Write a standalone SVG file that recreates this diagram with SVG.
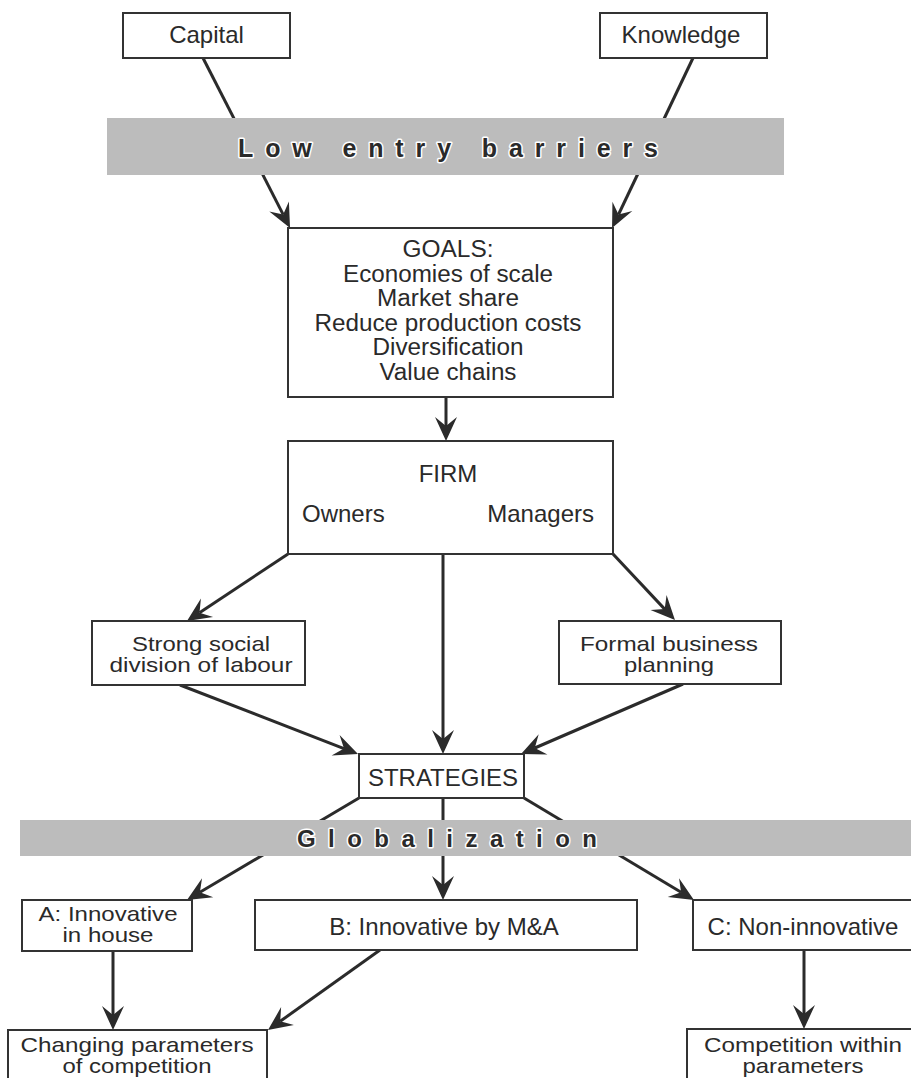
<svg xmlns="http://www.w3.org/2000/svg" width="911" height="1078" viewBox="0 0 911 1078">
  <style>
    .box { fill: #ffffff; stroke: #333333; stroke-width: 2; }
    .lbl { font-family: "Liberation Sans", Arial, sans-serif; font-size: 24px; fill: #2a2a2a; text-anchor: middle; }
    .lbl-l { font-family: "Liberation Sans", Arial, sans-serif; font-size: 24px; fill: #2a2a2a; }
    .lbl-g { font-family: "Liberation Sans", Arial, sans-serif; font-size: 23px; fill: #2a2a2a; text-anchor: middle; }
    .lbl2 { font-family: "Liberation Sans", Arial, sans-serif; font-size: 21px; fill: #2a2a2a; text-anchor: middle; }
    .conn { fill: none; stroke: #2b2b2b; stroke-width: 3; marker-end: url(#ah); }
    .band { fill: #bcbcbc; }
    .bandtxt { font-family: "Liberation Sans", Arial, sans-serif; font-weight: bold; fill: #2a2a2a; stroke: #ffffff; stroke-width: 3; paint-order: stroke; stroke-linejoin: round; }
  </style>
  <defs>
    <!-- barbed arrowhead; origin sits at the notch, tip 15px ahead -->
    <marker id="ah" markerUnits="userSpaceOnUse" markerWidth="30" markerHeight="26" viewBox="-10 -13 30 26" refX="0" refY="0" orient="auto">
      <path d="M15,0 L-9,-11 L0,0 L-9,11 Z" fill="#2b2b2b"/>
    </marker>
  </defs>
  <rect x="0" y="0" width="911" height="1078" fill="#ffffff"/>

  <!-- connectors (drawn first so the bands pass over them) -->
  <g id="connectors">
    <line class="conn" x1="203" y1="58" x2="283.2" y2="214.6"/>
    <line class="conn" x1="693" y1="58" x2="618.5" y2="214.5"/>
    <line class="conn" x1="446" y1="397" x2="446" y2="426"/>
    <line class="conn" x1="288" y1="554" x2="199.5" y2="612.7"/>
    <line class="conn" x1="443" y1="554" x2="443" y2="739"/>
    <line class="conn" x1="613" y1="554" x2="664.7" y2="609.1"/>
    <line class="conn" x1="180" y1="685" x2="344" y2="748.6"/>
    <line class="conn" x1="683" y1="684" x2="534.8" y2="748"/>
    <line class="conn" x1="359" y1="798" x2="199.9" y2="892.3"/>
    <line class="conn" x1="443" y1="798" x2="443" y2="885"/>
    <line class="conn" x1="524" y1="798" x2="681.1" y2="892.3"/>
    <line class="conn" x1="113" y1="951" x2="113" y2="1015"/>
    <line class="conn" x1="380" y1="950" x2="280.2" y2="1021.3"/>
    <line class="conn" x1="804" y1="950" x2="804" y2="1014"/>
  </g>

  <!-- shaded bands -->
  <g id="band-entry">
    <rect class="band" x="107" y="118" width="677" height="57"/>
    <text class="bandtxt" x="238" y="157" font-size="25" textLength="420" lengthAdjust="spacing">Low entry barriers</text>
  </g>
  <g id="band-globalization">
    <rect class="band" x="20" y="820" width="891" height="36"/>
    <text class="bandtxt" x="297" y="847" font-size="24" textLength="300" lengthAdjust="spacing">Globalization</text>
  </g>

  <!-- nodes -->
  <g id="capital">
    <rect class="box" x="123" y="13" width="167" height="45"/>
    <text class="lbl" x="206.5" y="43">Capital</text>
  </g>
  <g id="knowledge">
    <rect class="box" x="600" y="13" width="167" height="45"/>
    <text class="lbl" x="681" y="43">Knowledge</text>
  </g>
  <g id="goals">
    <rect class="box" x="288" y="228" width="325" height="169"/>
    <text class="lbl-g" x="448" y="257" textLength="91" lengthAdjust="spacingAndGlyphs">GOALS:</text>
    <text class="lbl-g" x="448" y="281.5" textLength="210" lengthAdjust="spacingAndGlyphs">Economies of scale</text>
    <text class="lbl-g" x="448" y="306" textLength="142" lengthAdjust="spacingAndGlyphs">Market share</text>
    <text class="lbl-g" x="448" y="330.5" textLength="267" lengthAdjust="spacingAndGlyphs">Reduce production costs</text>
    <text class="lbl-g" x="448" y="355" textLength="151" lengthAdjust="spacingAndGlyphs">Diversification</text>
    <text class="lbl-g" x="448" y="379.5" textLength="137" lengthAdjust="spacingAndGlyphs">Value chains</text>
  </g>
  <g id="firm">
    <rect class="box" x="288" y="441" width="325" height="113"/>
    <text class="lbl" x="448" y="482">FIRM</text>
    <text class="lbl-l" x="302" y="522">Owners</text>
    <text class="lbl-l" x="594" y="522" text-anchor="end">Managers</text>
  </g>
  <g id="social-division">
    <rect class="box" x="92" y="621" width="213" height="64"/>
    <text class="lbl2" x="201" y="651" textLength="138" lengthAdjust="spacingAndGlyphs">Strong social</text>
    <text class="lbl2" x="201" y="672" textLength="183" lengthAdjust="spacingAndGlyphs">division of labour</text>
  </g>
  <g id="business-planning">
    <rect class="box" x="559" y="621" width="222" height="63"/>
    <text class="lbl2" x="669" y="651" textLength="178" lengthAdjust="spacingAndGlyphs">Formal business</text>
    <text class="lbl2" x="669" y="672" textLength="90" lengthAdjust="spacingAndGlyphs">planning</text>
  </g>
  <g id="strategies">
    <rect class="box" x="359" y="754" width="165" height="44"/>
    <text class="lbl" x="443" y="786">STRATEGIES</text>
  </g>
  <g id="strategy-a">
    <rect class="box" x="22" y="900" width="170" height="51"/>
    <text class="lbl2" x="108" y="921" textLength="139" lengthAdjust="spacingAndGlyphs">A: Innovative</text>
    <text class="lbl2" x="108" y="942" textLength="91" lengthAdjust="spacingAndGlyphs">in house</text>
  </g>
  <g id="strategy-b">
    <rect class="box" x="255" y="900" width="382" height="50"/>
    <text class="lbl" x="444" y="935">B: Innovative by M&amp;A</text>
  </g>
  <g id="strategy-c">
    <rect class="box" x="693" y="900" width="222" height="50"/>
    <text class="lbl" x="803" y="935">C: Non-innovative</text>
  </g>
  <g id="changing-parameters">
    <rect class="box" x="8" y="1030" width="259" height="60"/>
    <text class="lbl2" x="137" y="1052" textLength="233" lengthAdjust="spacingAndGlyphs">Changing parameters</text>
    <text class="lbl2" x="137" y="1073" textLength="149" lengthAdjust="spacingAndGlyphs">of competition</text>
  </g>
  <g id="within-parameters">
    <rect class="box" x="687" y="1029" width="228" height="60"/>
    <text class="lbl2" x="803" y="1052" textLength="198" lengthAdjust="spacingAndGlyphs">Competition within</text>
    <text class="lbl2" x="803" y="1073" textLength="121" lengthAdjust="spacingAndGlyphs">parameters</text>
  </g>
</svg>
